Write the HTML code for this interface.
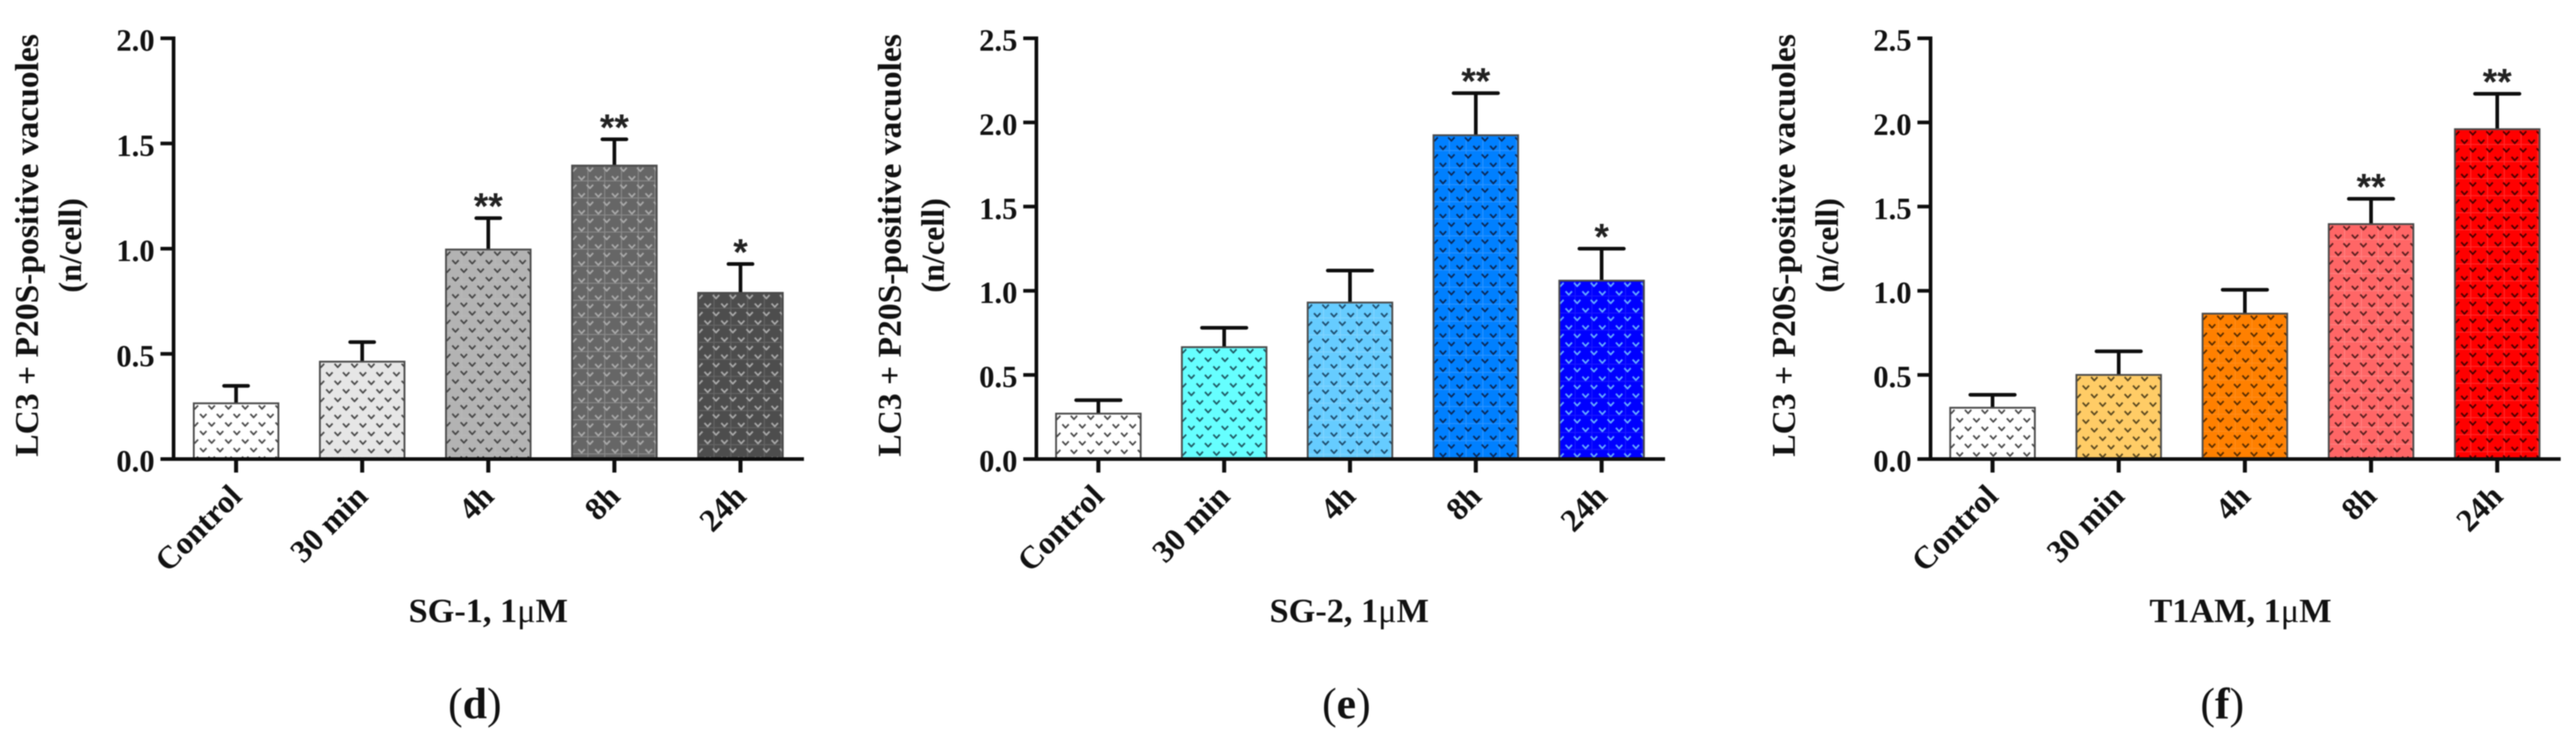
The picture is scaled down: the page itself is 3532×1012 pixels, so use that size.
<!DOCTYPE html>
<html lang="en">
<head>
<meta charset="utf-8">
<title>LC3 + P20S-positive vacuoles bar charts</title>
<style>
html,body{margin:0;padding:0;background:#fff;width:3532px;height:1012px;overflow:hidden}
svg{display:block;filter:blur(0.7px)}
text{font-family:"Liberation Serif",serif;fill:#111}
</style>
</head>
<body>
<svg id="figure" xmlns="http://www.w3.org/2000/svg" width="3532" height="1012" viewBox="0 0 3532 1012">
<defs id="defs"></defs>
</svg>
<script>
const categories = ["Control", "30 min", "4h", "8h", "24h"];

const sg1Means = [0.265, 0.463, 0.996, 1.395, 0.79];
const sg1Errors = [0.083, 0.093, 0.149, 0.125, 0.137];
const sg1Stars = ["", "", "**", "**", "*"];
const sg1Ticks = ["0.0", "0.5", "1.0", "1.5", "2.0"];

const sg2Means = [0.27, 0.665, 0.93, 1.924, 1.06];
const sg2Errors = [0.08, 0.115, 0.19, 0.25, 0.19];
const sg2Stars = ["", "", "", "**", "*"];
const sg2Ticks = ["0.0", "0.5", "1.0", "1.5", "2.0", "2.5"];

const t1amMeans = [0.305, 0.5, 0.864, 1.396, 1.96];
const t1amErrors = [0.077, 0.14, 0.142, 0.15, 0.21];
const t1amStars = ["", "", "", "**", "**"];
const t1amTicks = ["0.0", "0.5", "1.0", "1.5", "2.0", "2.5"];

const panelD = {key:"d", axisX:238, first:323.7, step:172.9, max:2.0, capW:33, stem:5,
  means:sg1Means, errors:sg1Errors, stars:sg1Stars, ticks:sg1Ticks,
  title:"SG-1, 1", titleX:669.5, letter:"d", letterX:651,
  fills:["#ffffff","#e6e6e6","#b3b3b3","#666666","#4d4d4d"],
  marks:["#4a4a4a","#4a4a4a","#484848","#a8a8a8","#a8a8a8"],
  grid:[null,null,"#b8b8b8","#8a8a8a","#666666"]};
const panelE = {key:"e", axisX:1421, first:1506, step:172.5, max:2.5, capW:61, stem:5,
  means:sg2Means, errors:sg2Errors, stars:sg2Stars, ticks:sg2Ticks,
  title:"SG-2, 1", titleX:1850, letter:"e", letterX:1846,
  fills:["#ffffff","#66ffff","#66ccff","#0080ff","#0000ff"],
  marks:["#4a4a4a","#1f5c66","#1f4f70","#0a2a5a","#66aaff"],
  grid:[null,null,"#80d4ff","#2b93ff","#1a1aff"]};
const panelF = {key:"f", axisX:2647, first:2732, step:173, max:2.5, capW:61, stem:5,
  means:t1amMeans, errors:t1amErrors, stars:t1amStars, ticks:t1amTicks,
  title:"T1AM, 1", titleX:3072, letter:"f", letterX:3047,
  fills:["#ffffff","#ffcc66","#ff8000","#ff6666","#ff0000"],
  marks:["#4a4a4a","#5c4a20","#5c2e00","#5c1f1f","#4d0000"],
  grid:[null,null,"#ff8c1a","#ff8080","#ff2b2b"]};

const panels = [panelD, panelE, panelF];

const svgNS = "http://www.w3.org/2000/svg";
const figure = document.getElementById("figure");
const defs = document.getElementById("defs");
const BASE_Y = 629.5;
const TOP_Y = 52.5;
const BAR_W = 116;
const INK = "#0d0d0d";

function make(tag, attrs, parent) {
  const node = document.createElementNS(svgNS, tag);
  for (const k in attrs) node.setAttribute(k, attrs[k]);
  parent.appendChild(node);
  return node;
}

function yScale(panel, v) {
  return BASE_Y - (v / panel.max) * (BASE_Y - TOP_Y);
}
function xScale(panel, i) {
  return panel.first + i * panel.step;
}

function chevron(tile, x, y, color) {
  const c = make("path", {d:`M${x-4.4} ${y-2.6}L${x} ${y+2.2}L${x+4.4} ${y-2.6}`, fill:"none", stroke:color, "stroke-width":2.3, "stroke-linejoin":"round"}, tile);
  
  
}

function addPattern(panel, i, left, top) {
  const id = `hatch-${panel.key}-${i}`;
  const tile = make("pattern", {id:id, patternUnits:"userSpaceOnUse", x:left, y:top, width:23, height:23.4}, defs);
  make("rect", {x:0, y:0, width:23, height:23.4, fill:panel.fills[i]}, tile);
  if (panel.grid[i]) {
    make("path", {d:"M0 21H23M21.7 0V23.4", stroke:panel.grid[i], "stroke-width":1.4, fill:"none"}, tile);
  }
  chevron(tile, 1.5, 5.5, panel.marks[i]);
  chevron(tile, 24.5, 5.5, panel.marks[i]);
  chevron(tile, 13, 17.2, panel.marks[i]);
  return id;
}

function drawPanel(panel) {
  const g = make("g", {}, figure);
  
  

  panel.means.forEach((m, i) => {
    const cx = xScale(panel, i);
    const left = cx - BAR_W / 2;
    const top = yScale(panel, m);
    const capY = yScale(panel, m + panel.errors[i]);

    const stem = make("line", {x1:cx, x2:cx, y1:top, y2:capY, stroke:INK, "stroke-width":panel.stem}, g);
    
    

    const cap = make("line", {x1:cx - panel.capW/2, x2:cx + panel.capW/2, y1:capY, y2:capY, stroke:INK, "stroke-width":5, "stroke-linecap":"round"}, g);
    
    

    const patternId = addPattern(panel, i, left, top);
    const bar = make("rect", {x:left, y:top, width:BAR_W, height:BASE_Y - top, fill:`url(#${patternId})`, stroke:"#4a4a4a", "stroke-width":2.5}, g);
    
    

    if (panel.stars[i]) {
      const star = make("text", {x:cx, y:capY + 1, "text-anchor":"middle", "font-size":51, "font-weight":"bold"}, g);
      star.style.fontFamily = '"Liberation Sans",sans-serif';
      star.style.fill = "#222";
      star.textContent = panel.stars[i];
      
      
    }

    const xTick = make("line", {x1:cx, x2:cx, y1:BASE_Y, y2:648, stroke:INK, "stroke-width":5.5}, g);
    
    

    const ax = cx + 10, ay = 683;
    const xLabel = make("text", {x:ax, y:ay, "text-anchor":"end", "font-size":44, "font-weight":"bold", transform:`rotate(-45 ${ax} ${ay})`}, g);
    xLabel.textContent = categories[i];
    
    
  });

  const xEnd = xScale(panel, categories.length - 1) + 87;
  const xAxis = make("line", {x1:panel.axisX - 18, x2:xEnd, y1:BASE_Y, y2:BASE_Y, stroke:INK, "stroke-width":5}, g);
  
  

  const yAxis = make("line", {x1:panel.axisX, x2:panel.axisX, y1:TOP_Y - 2.5, y2:BASE_Y, stroke:INK, "stroke-width":5}, g);
  
  

  panel.ticks.forEach((label) => {
    const y = yScale(panel, parseFloat(label));
    const tick = make("line", {x1:panel.axisX - 18, x2:panel.axisX, y1:y, y2:y, stroke:INK, "stroke-width":5}, g);
    
    

    const tl = make("text", {x:panel.axisX - 26, y:y + 17, "text-anchor":"end", "font-size":42, "font-weight":"bold"}, g);
    tl.textContent = label;
    
    
  });

  const tx = panel.axisX - 186, tx2 = panel.axisX - 127, ty = 336.5;
  const yTitle = make("text", {x:tx, y:ty, "text-anchor":"middle", "font-size":46, "font-weight":"bold", transform:`rotate(-90 ${tx} ${ty})`}, g);
  yTitle.textContent = "LC3 + P20S-positive vacuoles";
  
  

  const yUnit = make("text", {x:tx2, y:ty, "text-anchor":"middle", "font-size":44, "font-weight":"bold", transform:`rotate(-90 ${tx2} ${ty})`}, g);
  yUnit.textContent = "(n/cell)";
  
  

  const xTitle = make("text", {x:panel.titleX, y:853, "text-anchor":"middle", "font-size":47, "font-weight":"bold"}, g);
  
  
  xTitle.appendChild(document.createTextNode(panel.title));
  const mu = make("tspan", {"font-weight":"normal"}, xTitle);
  mu.textContent = "\u03BC";
  xTitle.appendChild(document.createTextNode("M"));

  const cap = make("text", {x:panel.letterX, y:985, "text-anchor":"middle", "font-size":60}, g);
  
  
  cap.appendChild(document.createTextNode("("));
  const letter = make("tspan", {"font-weight":"bold"}, cap);
  letter.textContent = panel.letter;
  cap.appendChild(document.createTextNode(")"));
}

panels.forEach(drawPanel);
</script>
</body>
</html>
